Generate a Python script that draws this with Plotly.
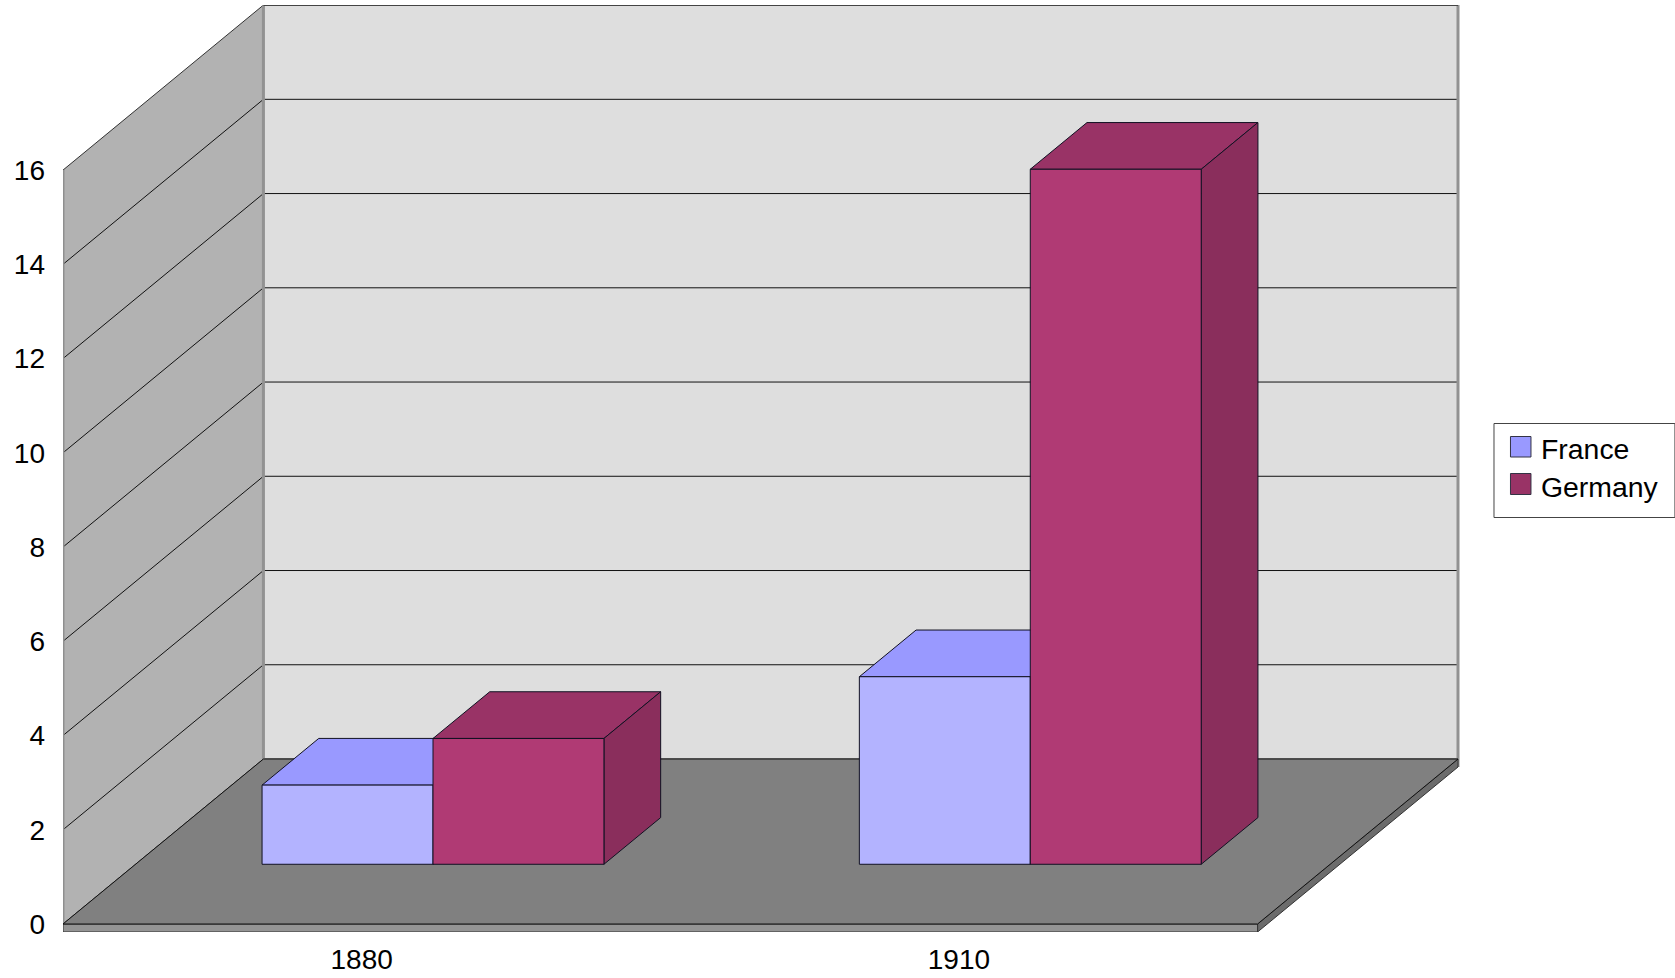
import plotly.graph_objects as go

# ---- data ----
categories = ["1880", "1910"]
france = [1.68, 3.98]
germany = [2.67, 14.75]
y_ticks = [0, 2, 4, 6, 8, 10, 12, 14, 16]

# ---- oblique projection (category units, value units) ----
W, H = 1675, 978
FLOOR_Y = 924.0
PX_L, PX_R = 62.5, 1460.0      # plot-area pixels
PX_T, PX_B = 5.0, 932.0
CAT_PX = 597.5                 # pixels per category
VAL_PX = 47.12                 # pixels per value unit
DX = 200.5 / CAT_PX            # full floor depth in category units
DY = 165.0 / VAL_PX            # full floor depth in value units
D0, D1 = 0.362, 0.645          # bar front / back depth
BAR_W = 171 / CAT_PX
BAR_SHIFT = -1.2 / CAT_PX
SLAB = 8 / VAL_PX
Y_MAX = y_ticks[-1]
N = len(categories)

x_range = [0, (PX_R - PX_L) / CAT_PX]
y_range = [-(PX_B - FLOOR_Y) / VAL_PX, (FLOOR_Y - PX_T) / VAL_PX]


def P(c, v, d=0.0):
    return c + d * DX, v + d * DY


fig = go.Figure()


def poly(points, fill, line="#222222", lw=1, name=None):
    xs, ys = zip(*(points + points[:1]))
    fig.add_trace(go.Scatter(x=list(xs), y=list(ys), mode="lines", fill="toself", fillcolor=fill,
                             line=dict(color=line, width=lw), hoverinfo="skip" if name is None else "name",
                             name=name or "", showlegend=False, cliponaxis=False))


def seg(a, b, color, lw=1):
    fig.add_trace(go.Scatter(x=[a[0], b[0]], y=[a[1], b[1]], mode="lines",
                             line=dict(color=color, width=lw), hoverinfo="skip",
                             showlegend=False, cliponaxis=False))


# walls
poly([P(0, 0), P(0, Y_MAX), P(0, Y_MAX, 1), P(0, 0, 1)], "#b2b2b2", "#333333")
poly([P(0, 0, 1), P(0, Y_MAX, 1), P(N, Y_MAX, 1), P(N, 0, 1)], "#dedede", "#333333")
for t in y_ticks[1:-1]:
    seg(P(0, t), P(0, t, 1), "#111111", 1)
    seg(P(0, t, 1), P(N, t, 1), "#111111", 1)
seg(P(0, 0), P(0, Y_MAX), "#8f8f8f", 3)
seg(P(0, 0, 1), P(0, Y_MAX, 1), "#929292", 3)
seg(P(N, -SLAB, 1), P(N, Y_MAX, 1), "#929292", 3)
seg(P(0, Y_MAX, 1), P(N, Y_MAX, 1), "#444444", 2)

# floor slab
poly([P(N, 0), P(N, 0, 1), P(N, -SLAB, 1), P(N, -SLAB)], "#6c6c6c", "#333333")
poly([P(0, 0), P(N, 0), P(N, -SLAB), P(0, -SLAB)], "#949494", "#333333")
poly([P(0, 0), P(N, 0), P(N, 0, 1), P(0, 0, 1)], "#808080", "#111111")

# bars
series = [("France", france, "#b3b3ff", "#9999ff", "#8080d6", -1),
          ("Germany", germany, "#b03a74", "#993366", "#8a2e5c", 0)]
for i in range(N):
    for name, vals, front, top, side, off in series:
        c0 = i + 0.5 + BAR_SHIFT + off * BAR_W
        c1 = c0 + BAR_W
        v = vals[i]
        poly([P(c0, v, D0), P(c1, v, D0), P(c1, v, D1), P(c0, v, D1)], top, "#111122", name=name)
        poly([P(c1, 0, D0), P(c1, v, D0), P(c1, v, D1), P(c1, 0, D1)], side, "#111122", name=name)
        poly([P(c0, 0, D0), P(c1, 0, D0), P(c1, v, D0), P(c0, v, D0)], front, "#111122", name=name)


# legend, built in pixel space of the figure
def px(x):
    return (x - PX_L) / (PX_R - PX_L)


def py(y):
    return (PX_B - y) / (PX_B - PX_T)


shapes = [dict(type="rect", xref="paper", yref="paper", x0=px(1494), x1=px(1675), y0=py(517.5), y1=py(423.5),
               line=dict(color="#444444", width=1), fillcolor="#ffffff")]
annotations = []
legend_y = [(436.5, 457, 449), (473.5, 494.5, 486.5)]
for (name, _, _, top, _, _), (y0, y1, yc) in zip(series, legend_y):
    shapes.append(dict(type="rect", xref="paper", yref="paper", x0=px(1510.5), x1=px(1531), y0=py(y1), y1=py(y0),
                       line=dict(color="#333344", width=1), fillcolor=top))
    annotations.append(dict(xref="paper", yref="paper", x=px(1539.5), y=py(yc), text=name, showarrow=False,
                            xanchor="left", yanchor="middle", font=dict(size=28.4, color="#000000")))

fig.update_layout(
    width=W, height=H,
    margin=dict(l=PX_L, r=W - PX_R, t=PX_T, b=H - PX_B, pad=0, autoexpand=False),
    paper_bgcolor="#ffffff", plot_bgcolor="#ffffff",
    font=dict(family="Liberation Sans, Arial, sans-serif", size=28, color="#000000"),
    showlegend=False,
    shapes=shapes, annotations=annotations,
    xaxis=dict(range=x_range, tickmode="array", tickvals=[i + 0.5 for i in range(N)], ticktext=categories,
               showgrid=False, zeroline=False, showline=False, ticks="", ticklabelstandoff=8, fixedrange=True),
    yaxis=dict(range=y_range, tickmode="array", tickvals=y_ticks, ticktext=[str(t) for t in y_ticks],
               showgrid=False, zeroline=False, showline=False, ticks="", ticklabelstandoff=17, fixedrange=True),
)

fig.write_html("out.html", config={"displayModeBar": False},
               post_script="document.body.style.margin='0';document.body.style.overflow='hidden';")
